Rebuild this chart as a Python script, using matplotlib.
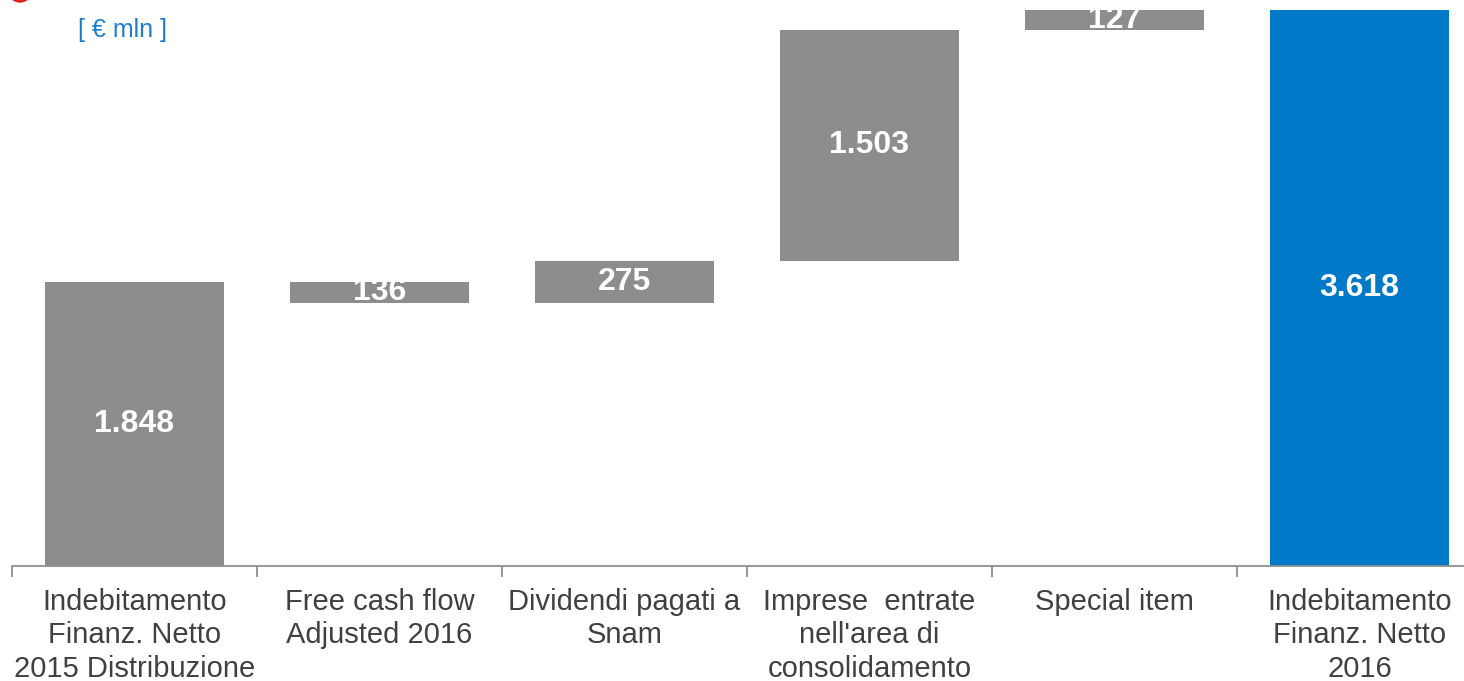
import matplotlib.pyplot as plt
from matplotlib.patches import Ellipse

plt.rcParams["font.family"] = ["Liberation Sans", "DejaVu Sans"]

categories = [
    "Indebitamento\nFinanz. Netto\n2015 Distribuzione",
    "Free cash flow\nAdjusted 2016",
    "Dividendi pagati a\nSnam",
    "Imprese  entrate\nnell'area di\nconsolidamento",
    "Special item",
    "Indebitamento\nFinanz. Netto\n2016",
]
start_value = 1848
deltas = [-136, 275, 1503, 127]
end_value = 3618
value_labels = ["1.848", "136", "275", "1.503", "127", "3.618"]

GREY = "#8c8d8c"
BLUE = "#0079c8"
TEXT = "#404040"

# build waterfall bottoms / heights
bottoms, heights = [0], [start_value]
level = start_value
for d in deltas:
    new = level + d
    bottoms.append(min(level, new))
    heights.append(abs(d))
    level = new
bottoms.append(0)
heights.append(end_value)
colors = [GREY] * 5 + [BLUE]

W, H = 1464, 681
fig = plt.figure(figsize=(W / 100, H / 100), dpi=100)
# axis spans left 12px to beyond right edge, baseline at y=566px
ax = fig.add_axes([12 / W, 1 - 566 / H, 1470 / W, 566 / H])

x = range(len(categories))
ax.bar(x, heights, bottom=bottoms, width=0.73, color=colors, zorder=2)
for xi, b, h, lab in zip(x, bottoms, heights, value_labels):
    ax.text(xi, b + h / 2, lab, ha="center", va="center", color="white",
            fontsize=23, fontweight="bold", zorder=3)

ax.set_xlim(-0.5, len(categories) - 0.5)
ax.set_ylim(0, end_value * 566 / 556)

for s in ["top", "right", "left"]:
    ax.spines[s].set_visible(False)
ax.spines["bottom"].set_color("#909090")
ax.spines["bottom"].set_linewidth(1.3)
ax.set_yticks([])
ax.set_xticks([i - 0.5 for i in range(len(categories) + 1)])
ax.set_xticklabels([])
ax.tick_params(axis="x", length=8, width=1.3, color="#909090")
for xi, cat in zip(x, categories):
    ax.text(xi, -0.039 * ax.get_ylim()[1], cat, ha="center", va="top",
            fontsize=21, color=TEXT, linespacing=1.24)

fig.text(78 / W, 1 - 30 / H, "[ € mln ]", color="#1a7fd0", fontsize=18,
         ha="left", va="center")
fig.patches.append(Ellipse((20 / W, 1 + 10 / H), 24 / W, 24 / H,
                           transform=fig.transFigure, color="#d9281e",
                           clip_on=False))

fig.savefig("out.png", dpi=100)
